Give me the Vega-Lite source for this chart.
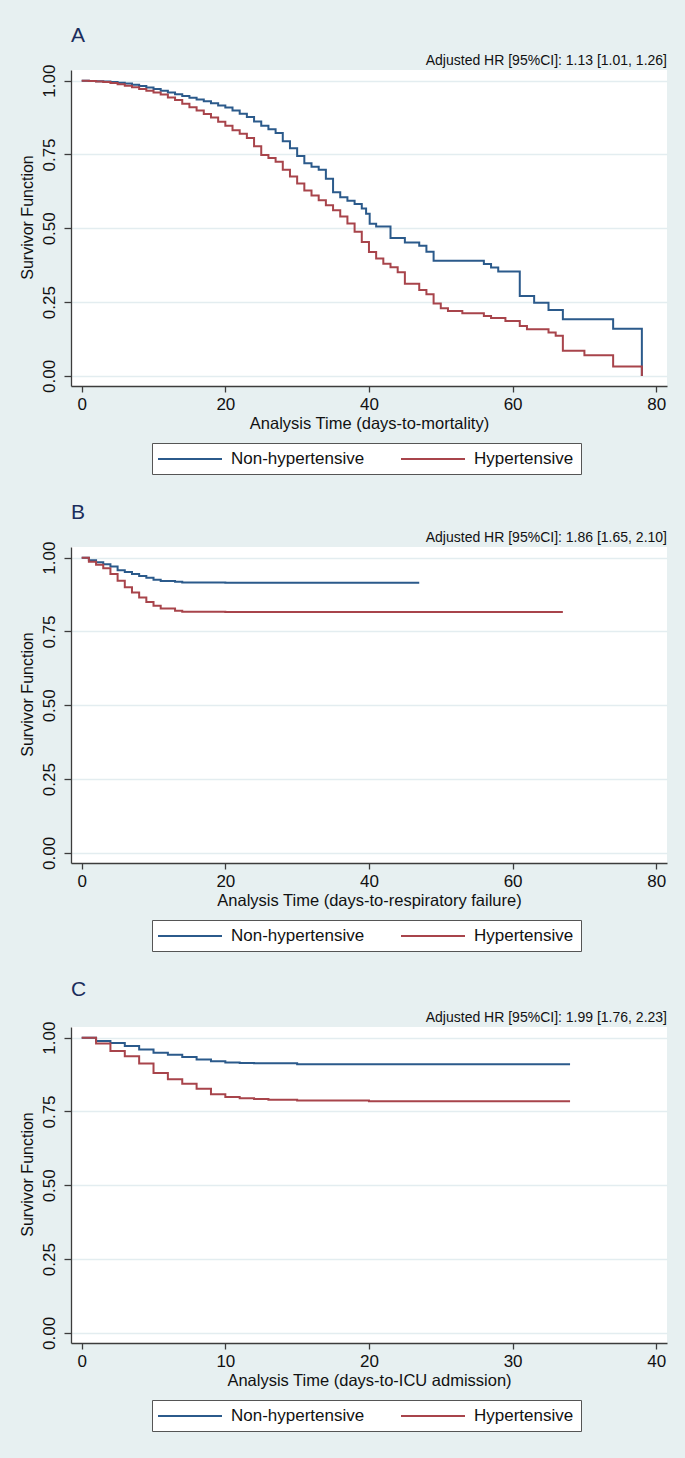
{
"$schema": "https://vega.github.io/schema/vega-lite/v6.json",
"background": "#e7f0f1",
"padding": {"left": 19, "top": 25, "right": 19, "bottom": 27},
"spacing": 27,
"resolve": {"scale": {"x": "independent", "y": "independent", "color": "independent"}, "legend": {"color": "independent"}},
"config": {
  "font": "Liberation Sans",
  "view": {"fill": "white", "stroke": null},
  "axis": {"domainColor": "#3c3c3c", "domainWidth": 1.3, "tickColor": "#3c3c3c", "tickWidth": 1.3, "tickSize": 6, "labelColor": "#111111", "titleColor": "#111111", "titleFontWeight": "normal", "labelFontSize": 17, "titleFontSize": 16.5, "grid": false, "gridColor": "#e3edf0", "gridWidth": 1.5},
  "axisX": {"labelPadding": 4, "titlePadding": 3},
  "axisY": {"labelAngle": -90, "labelFontSize": 17, "titleFontSize": 16, "labelPadding": 6, "titlePadding": 5, "tickSize": 7, "titleY": 147},
  "title": {"fontSize": 21, "fontWeight": "normal", "color": "#1b2d5c", "anchor": "start", "frame": "group", "offset": 8},
  "legend": {"symbolType": "M-1,0H7", "symbolSize": 256, "symbolStrokeWidth": 2, "symbolOffset": -2, "labelFontSize": 17, "labelColor": "#111111", "labelOffset": 56, "columnPadding": 32, "padding": 7, "strokeColor": "#555555", "fillColor": "white", "labelLimit": 300}
},
"datasets": {
 "km": [
  {"panel":"A","group":"Non-hypertensive","time":0,"surv":1.0},
  {"panel":"A","group":"Non-hypertensive","time":1,"surv":0.999},
  {"panel":"A","group":"Non-hypertensive","time":2,"surv":0.998},
  {"panel":"A","group":"Non-hypertensive","time":3,"surv":0.997},
  {"panel":"A","group":"Non-hypertensive","time":4,"surv":0.995},
  {"panel":"A","group":"Non-hypertensive","time":5,"surv":0.993},
  {"panel":"A","group":"Non-hypertensive","time":6,"surv":0.990},
  {"panel":"A","group":"Non-hypertensive","time":7,"surv":0.986},
  {"panel":"A","group":"Non-hypertensive","time":8,"surv":0.982},
  {"panel":"A","group":"Non-hypertensive","time":9,"surv":0.977},
  {"panel":"A","group":"Non-hypertensive","time":10,"surv":0.972},
  {"panel":"A","group":"Non-hypertensive","time":11,"surv":0.966},
  {"panel":"A","group":"Non-hypertensive","time":12,"surv":0.960},
  {"panel":"A","group":"Non-hypertensive","time":13,"surv":0.954},
  {"panel":"A","group":"Non-hypertensive","time":14,"surv":0.948},
  {"panel":"A","group":"Non-hypertensive","time":15,"surv":0.942},
  {"panel":"A","group":"Non-hypertensive","time":16,"surv":0.936},
  {"panel":"A","group":"Non-hypertensive","time":17,"surv":0.930},
  {"panel":"A","group":"Non-hypertensive","time":18,"surv":0.923},
  {"panel":"A","group":"Non-hypertensive","time":19,"surv":0.916},
  {"panel":"A","group":"Non-hypertensive","time":20,"surv":0.909},
  {"panel":"A","group":"Non-hypertensive","time":21,"surv":0.899},
  {"panel":"A","group":"Non-hypertensive","time":22,"surv":0.888},
  {"panel":"A","group":"Non-hypertensive","time":23,"surv":0.877},
  {"panel":"A","group":"Non-hypertensive","time":24,"surv":0.862},
  {"panel":"A","group":"Non-hypertensive","time":25,"surv":0.847},
  {"panel":"A","group":"Non-hypertensive","time":26,"surv":0.835},
  {"panel":"A","group":"Non-hypertensive","time":27,"surv":0.823},
  {"panel":"A","group":"Non-hypertensive","time":28,"surv":0.795},
  {"panel":"A","group":"Non-hypertensive","time":29,"surv":0.771},
  {"panel":"A","group":"Non-hypertensive","time":30,"surv":0.745},
  {"panel":"A","group":"Non-hypertensive","time":31,"surv":0.720},
  {"panel":"A","group":"Non-hypertensive","time":32,"surv":0.708},
  {"panel":"A","group":"Non-hypertensive","time":33,"surv":0.698},
  {"panel":"A","group":"Non-hypertensive","time":34,"surv":0.668},
  {"panel":"A","group":"Non-hypertensive","time":35,"surv":0.622},
  {"panel":"A","group":"Non-hypertensive","time":36,"surv":0.605},
  {"panel":"A","group":"Non-hypertensive","time":37,"surv":0.593},
  {"panel":"A","group":"Non-hypertensive","time":38,"surv":0.582},
  {"panel":"A","group":"Non-hypertensive","time":39,"surv":0.567},
  {"panel":"A","group":"Non-hypertensive","time":39.6,"surv":0.549},
  {"panel":"A","group":"Non-hypertensive","time":40.1,"surv":0.515},
  {"panel":"A","group":"Non-hypertensive","time":41,"surv":0.506},
  {"panel":"A","group":"Non-hypertensive","time":43,"surv":0.467},
  {"panel":"A","group":"Non-hypertensive","time":45,"surv":0.452},
  {"panel":"A","group":"Non-hypertensive","time":47,"surv":0.441},
  {"panel":"A","group":"Non-hypertensive","time":48,"surv":0.421},
  {"panel":"A","group":"Non-hypertensive","time":49,"surv":0.390},
  {"panel":"A","group":"Non-hypertensive","time":56,"surv":0.379},
  {"panel":"A","group":"Non-hypertensive","time":57,"surv":0.367},
  {"panel":"A","group":"Non-hypertensive","time":58,"surv":0.354},
  {"panel":"A","group":"Non-hypertensive","time":61,"surv":0.271},
  {"panel":"A","group":"Non-hypertensive","time":63,"surv":0.248},
  {"panel":"A","group":"Non-hypertensive","time":65,"surv":0.223},
  {"panel":"A","group":"Non-hypertensive","time":67,"surv":0.192},
  {"panel":"A","group":"Non-hypertensive","time":74,"surv":0.160},
  {"panel":"A","group":"Non-hypertensive","time":78,"surv":0.0},
  {"panel":"A","group":"Hypertensive","time":0,"surv":1.0},
  {"panel":"A","group":"Hypertensive","time":1,"surv":0.999},
  {"panel":"A","group":"Hypertensive","time":2,"surv":0.997},
  {"panel":"A","group":"Hypertensive","time":3,"surv":0.995},
  {"panel":"A","group":"Hypertensive","time":4,"surv":0.992},
  {"panel":"A","group":"Hypertensive","time":5,"surv":0.988},
  {"panel":"A","group":"Hypertensive","time":6,"surv":0.983},
  {"panel":"A","group":"Hypertensive","time":7,"surv":0.978},
  {"panel":"A","group":"Hypertensive","time":8,"surv":0.972},
  {"panel":"A","group":"Hypertensive","time":9,"surv":0.966},
  {"panel":"A","group":"Hypertensive","time":10,"surv":0.960},
  {"panel":"A","group":"Hypertensive","time":11,"surv":0.953},
  {"panel":"A","group":"Hypertensive","time":12,"surv":0.943},
  {"panel":"A","group":"Hypertensive","time":13,"surv":0.934},
  {"panel":"A","group":"Hypertensive","time":14,"surv":0.922},
  {"panel":"A","group":"Hypertensive","time":15,"surv":0.910},
  {"panel":"A","group":"Hypertensive","time":16,"surv":0.899},
  {"panel":"A","group":"Hypertensive","time":17,"surv":0.887},
  {"panel":"A","group":"Hypertensive","time":18,"surv":0.875},
  {"panel":"A","group":"Hypertensive","time":19,"surv":0.861},
  {"panel":"A","group":"Hypertensive","time":20,"surv":0.847},
  {"panel":"A","group":"Hypertensive","time":21,"surv":0.832},
  {"panel":"A","group":"Hypertensive","time":22,"surv":0.820},
  {"panel":"A","group":"Hypertensive","time":23,"surv":0.806},
  {"panel":"A","group":"Hypertensive","time":24,"surv":0.778},
  {"panel":"A","group":"Hypertensive","time":25,"surv":0.748},
  {"panel":"A","group":"Hypertensive","time":26,"surv":0.738},
  {"panel":"A","group":"Hypertensive","time":27,"surv":0.725},
  {"panel":"A","group":"Hypertensive","time":28,"surv":0.698},
  {"panel":"A","group":"Hypertensive","time":29,"surv":0.675},
  {"panel":"A","group":"Hypertensive","time":30,"surv":0.652},
  {"panel":"A","group":"Hypertensive","time":31,"surv":0.628},
  {"panel":"A","group":"Hypertensive","time":32,"surv":0.611},
  {"panel":"A","group":"Hypertensive","time":33,"surv":0.595},
  {"panel":"A","group":"Hypertensive","time":34,"surv":0.578},
  {"panel":"A","group":"Hypertensive","time":35,"surv":0.561},
  {"panel":"A","group":"Hypertensive","time":36,"surv":0.540},
  {"panel":"A","group":"Hypertensive","time":37,"surv":0.516},
  {"panel":"A","group":"Hypertensive","time":38,"surv":0.488},
  {"panel":"A","group":"Hypertensive","time":39,"surv":0.454},
  {"panel":"A","group":"Hypertensive","time":40,"surv":0.420},
  {"panel":"A","group":"Hypertensive","time":41,"surv":0.398},
  {"panel":"A","group":"Hypertensive","time":42,"surv":0.380},
  {"panel":"A","group":"Hypertensive","time":43,"surv":0.368},
  {"panel":"A","group":"Hypertensive","time":44,"surv":0.351},
  {"panel":"A","group":"Hypertensive","time":45,"surv":0.312},
  {"panel":"A","group":"Hypertensive","time":47,"surv":0.291},
  {"panel":"A","group":"Hypertensive","time":48,"surv":0.277},
  {"panel":"A","group":"Hypertensive","time":49,"surv":0.245},
  {"panel":"A","group":"Hypertensive","time":50,"surv":0.229},
  {"panel":"A","group":"Hypertensive","time":51,"surv":0.220},
  {"panel":"A","group":"Hypertensive","time":53,"surv":0.212},
  {"panel":"A","group":"Hypertensive","time":56,"surv":0.203},
  {"panel":"A","group":"Hypertensive","time":57,"surv":0.196},
  {"panel":"A","group":"Hypertensive","time":59,"surv":0.186},
  {"panel":"A","group":"Hypertensive","time":61,"surv":0.169},
  {"panel":"A","group":"Hypertensive","time":62,"surv":0.158},
  {"panel":"A","group":"Hypertensive","time":65,"surv":0.147},
  {"panel":"A","group":"Hypertensive","time":66,"surv":0.136},
  {"panel":"A","group":"Hypertensive","time":67,"surv":0.085},
  {"panel":"A","group":"Hypertensive","time":70,"surv":0.070},
  {"panel":"A","group":"Hypertensive","time":74,"surv":0.032},
  {"panel":"A","group":"Hypertensive","time":78,"surv":0.0},
  {"panel":"B","group":"Non-hypertensive","time":0,"surv":1.0},
  {"panel":"B","group":"Non-hypertensive","time":1,"surv":0.991},
  {"panel":"B","group":"Non-hypertensive","time":2,"surv":0.984},
  {"panel":"B","group":"Non-hypertensive","time":3,"surv":0.978},
  {"panel":"B","group":"Non-hypertensive","time":4,"surv":0.970},
  {"panel":"B","group":"Non-hypertensive","time":5,"surv":0.957},
  {"panel":"B","group":"Non-hypertensive","time":6,"surv":0.951},
  {"panel":"B","group":"Non-hypertensive","time":7,"surv":0.945},
  {"panel":"B","group":"Non-hypertensive","time":8,"surv":0.938},
  {"panel":"B","group":"Non-hypertensive","time":9,"surv":0.932},
  {"panel":"B","group":"Non-hypertensive","time":10,"surv":0.925},
  {"panel":"B","group":"Non-hypertensive","time":11,"surv":0.921},
  {"panel":"B","group":"Non-hypertensive","time":13,"surv":0.918},
  {"panel":"B","group":"Non-hypertensive","time":14,"surv":0.916},
  {"panel":"B","group":"Non-hypertensive","time":20,"surv":0.915},
  {"panel":"B","group":"Non-hypertensive","time":47,"surv":0.915},
  {"panel":"B","group":"Hypertensive","time":0,"surv":1.0},
  {"panel":"B","group":"Hypertensive","time":1,"surv":0.986},
  {"panel":"B","group":"Hypertensive","time":2,"surv":0.976},
  {"panel":"B","group":"Hypertensive","time":3,"surv":0.964},
  {"panel":"B","group":"Hypertensive","time":4,"surv":0.945},
  {"panel":"B","group":"Hypertensive","time":5,"surv":0.922},
  {"panel":"B","group":"Hypertensive","time":6,"surv":0.900},
  {"panel":"B","group":"Hypertensive","time":7,"surv":0.882},
  {"panel":"B","group":"Hypertensive","time":8,"surv":0.865},
  {"panel":"B","group":"Hypertensive","time":9,"surv":0.850},
  {"panel":"B","group":"Hypertensive","time":10,"surv":0.837},
  {"panel":"B","group":"Hypertensive","time":11,"surv":0.828},
  {"panel":"B","group":"Hypertensive","time":13,"surv":0.820},
  {"panel":"B","group":"Hypertensive","time":14,"surv":0.817},
  {"panel":"B","group":"Hypertensive","time":20,"surv":0.816},
  {"panel":"B","group":"Hypertensive","time":67,"surv":0.816},
  {"panel":"C","group":"Non-hypertensive","time":0,"surv":1.0},
  {"panel":"C","group":"Non-hypertensive","time":1,"surv":0.989},
  {"panel":"C","group":"Non-hypertensive","time":2,"surv":0.982},
  {"panel":"C","group":"Non-hypertensive","time":3,"surv":0.972},
  {"panel":"C","group":"Non-hypertensive","time":4,"surv":0.960},
  {"panel":"C","group":"Non-hypertensive","time":5,"surv":0.949},
  {"panel":"C","group":"Non-hypertensive","time":6,"surv":0.942},
  {"panel":"C","group":"Non-hypertensive","time":7,"surv":0.934},
  {"panel":"C","group":"Non-hypertensive","time":8,"surv":0.926},
  {"panel":"C","group":"Non-hypertensive","time":9,"surv":0.920},
  {"panel":"C","group":"Non-hypertensive","time":10,"surv":0.916},
  {"panel":"C","group":"Non-hypertensive","time":11,"surv":0.914},
  {"panel":"C","group":"Non-hypertensive","time":12,"surv":0.913},
  {"panel":"C","group":"Non-hypertensive","time":15,"surv":0.910},
  {"panel":"C","group":"Non-hypertensive","time":34,"surv":0.910},
  {"panel":"C","group":"Hypertensive","time":0,"surv":1.0},
  {"panel":"C","group":"Hypertensive","time":1,"surv":0.980},
  {"panel":"C","group":"Hypertensive","time":2,"surv":0.955},
  {"panel":"C","group":"Hypertensive","time":3,"surv":0.937},
  {"panel":"C","group":"Hypertensive","time":4,"surv":0.912},
  {"panel":"C","group":"Hypertensive","time":5,"surv":0.880},
  {"panel":"C","group":"Hypertensive","time":6,"surv":0.859},
  {"panel":"C","group":"Hypertensive","time":7,"surv":0.844},
  {"panel":"C","group":"Hypertensive","time":8,"surv":0.827},
  {"panel":"C","group":"Hypertensive","time":9,"surv":0.808},
  {"panel":"C","group":"Hypertensive","time":10,"surv":0.799},
  {"panel":"C","group":"Hypertensive","time":11,"surv":0.795},
  {"panel":"C","group":"Hypertensive","time":12,"surv":0.792},
  {"panel":"C","group":"Hypertensive","time":13,"surv":0.790},
  {"panel":"C","group":"Hypertensive","time":15,"surv":0.787},
  {"panel":"C","group":"Hypertensive","time":20,"surv":0.785},
  {"panel":"C","group":"Hypertensive","time":34,"surv":0.785}
 ]
},
"vconcat": [
 {
  "title": {"text": "A"},
  "width": 596, "height": 316,
  "layer": [
   {"data": {"name": "km"}, "transform": [{"filter": "datum.panel === 'A'"}],
    "mark": {"type": "line", "interpolate": "step-after", "strokeWidth": 2},
    "encoding": {
     "x": {"field": "time", "type": "quantitative", "scale": {"domain": [-1.49, 81.5], "nice": false, "zero": false}, "axis": {"values": [0, 20, 40, 60, 80], "title": "Analysis Time (days-to-mortality)"}},
     "y": {"field": "surv", "type": "quantitative", "scale": {"domain": [-0.034, 1.036], "nice": false, "zero": false}, "axis": {"values": [0, 0.25, 0.5, 0.75, 1], "format": ".2f", "title": "Survivor Function", "grid": true}},
     "color": {"field": "group", "type": "nominal", "scale": {"domain": ["Non-hypertensive", "Hypertensive"], "range": ["#2b5a8b", "#a8444b"]}, "legend": {"orient": "none", "legendX": 81, "legendY": 373, "direction": "horizontal", "title": null}}
    }},
   {"data": {"values": [{"note": "Adjusted HR [95%CI]: 1.13 [1.01, 1.26]"}]},
    "mark": {"type": "text", "align": "right", "baseline": "alphabetic", "dy": -5, "fontSize": 14, "color": "#111111"},
    "encoding": {"x": {"datum": 81.5}, "y": {"datum": 1.036}, "text": {"field": "note"}}}
  ]
 },
 {
  "title": {"text": "B"},
  "width": 596, "height": 316,
  "layer": [
   {"data": {"name": "km"}, "transform": [{"filter": "datum.panel === 'B'"}],
    "mark": {"type": "line", "interpolate": "step-after", "strokeWidth": 2},
    "encoding": {
     "x": {"field": "time", "type": "quantitative", "scale": {"domain": [-1.49, 81.5], "nice": false, "zero": false}, "axis": {"values": [0, 20, 40, 60, 80], "title": "Analysis Time (days-to-respiratory failure)"}},
     "y": {"field": "surv", "type": "quantitative", "scale": {"domain": [-0.034, 1.036], "nice": false, "zero": false}, "axis": {"values": [0, 0.25, 0.5, 0.75, 1], "format": ".2f", "title": "Survivor Function", "grid": true}},
     "color": {"field": "group", "type": "nominal", "scale": {"domain": ["Non-hypertensive", "Hypertensive"], "range": ["#2b5a8b", "#a8444b"]}, "legend": {"orient": "none", "legendX": 81, "legendY": 373, "direction": "horizontal", "title": null}}
    }},
   {"data": {"values": [{"note": "Adjusted HR [95%CI]: 1.86 [1.65, 2.10]"}]},
    "mark": {"type": "text", "align": "right", "baseline": "alphabetic", "dy": -5, "fontSize": 14, "color": "#111111"},
    "encoding": {"x": {"datum": 81.5}, "y": {"datum": 1.036}, "text": {"field": "note"}}}
  ]
 },
 {
  "title": {"text": "C", "offset": 11},
  "width": 596, "height": 316,
  "layer": [
   {"data": {"name": "km"}, "transform": [{"filter": "datum.panel === 'C'"}],
    "mark": {"type": "line", "interpolate": "step-after", "strokeWidth": 2},
    "encoding": {
     "x": {"field": "time", "type": "quantitative", "scale": {"domain": [-0.745, 40.75], "nice": false, "zero": false}, "axis": {"values": [0, 10, 20, 30, 40], "title": "Analysis Time (days-to-ICU admission)"}},
     "y": {"field": "surv", "type": "quantitative", "scale": {"domain": [-0.034, 1.036], "nice": false, "zero": false}, "axis": {"values": [0, 0.25, 0.5, 0.75, 1], "format": ".2f", "title": "Survivor Function", "grid": true}},
     "color": {"field": "group", "type": "nominal", "scale": {"domain": ["Non-hypertensive", "Hypertensive"], "range": ["#2b5a8b", "#a8444b"]}, "legend": {"orient": "none", "legendX": 81, "legendY": 373, "direction": "horizontal", "title": null}}
    }},
   {"data": {"values": [{"note": "Adjusted HR [95%CI]: 1.99 [1.76, 2.23]"}]},
    "mark": {"type": "text", "align": "right", "baseline": "alphabetic", "dy": -5, "fontSize": 14, "color": "#111111"},
    "encoding": {"x": {"datum": 40.75}, "y": {"datum": 1.036}, "text": {"field": "note"}}}
  ]
 }
]
}
